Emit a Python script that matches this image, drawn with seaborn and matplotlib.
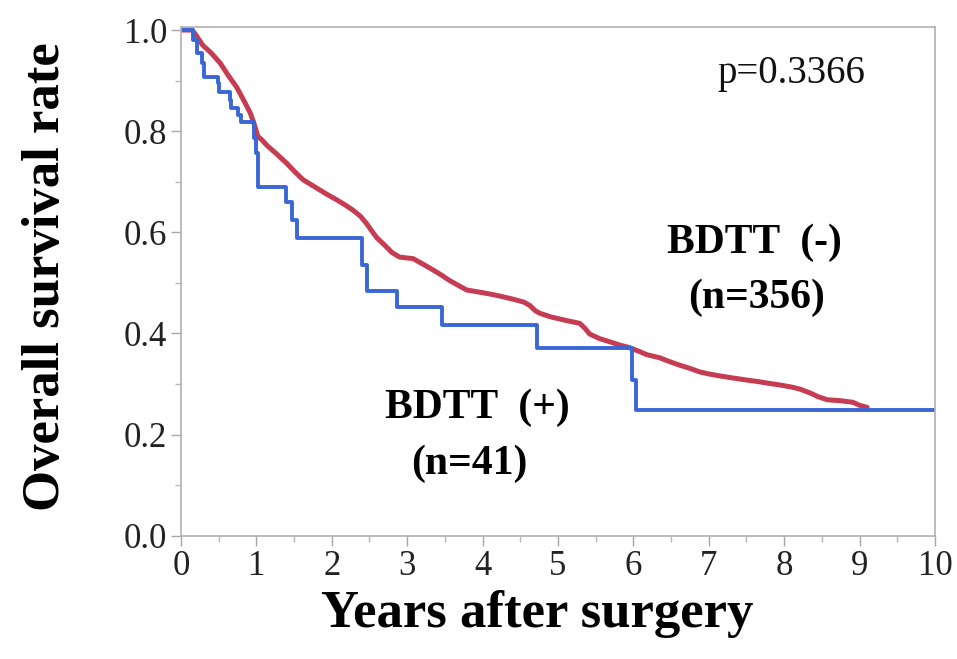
import numpy as np
import pandas as pd
import matplotlib
matplotlib.use("Agg")
import matplotlib.pyplot as plt
import seaborn as sns
from matplotlib.ticker import MultipleLocator

# BDTT (-) n=356
neg_time = [0, 0.15, 0.2, 0.29, 0.4, 0.52, 0.63, 0.74, 0.83, 0.92, 0.97, 1.02, 1.08, 1.14,
            1.27, 1.40, 1.51, 1.62, 1.73, 1.84, 1.95, 2.07, 2.18, 2.28, 2.38, 2.46, 2.53,
            2.60, 2.70, 2.80, 2.90, 3.08, 3.2, 3.34, 3.45, 3.56, 3.68, 3.79, 3.95, 4.1,
            4.23, 4.4, 4.55, 4.63, 4.70, 4.76, 4.9, 5.1, 5.29, 5.36, 5.42, 5.55, 5.7,
            5.82, 5.95, 6.07, 6.18, 6.35, 6.45, 6.6, 6.75, 6.88, 7.0, 7.15, 7.32, 7.5,
            7.65, 7.77, 7.95, 8.1, 8.21, 8.35, 8.45, 8.57, 8.75, 8.91, 9.0, 9.1]
neg_surv = [1.0, 1.0, 0.99, 0.97, 0.955, 0.935, 0.91, 0.887, 0.862, 0.836, 0.815, 0.79, 0.782,
            0.772, 0.755, 0.737, 0.72, 0.704, 0.694, 0.684, 0.674, 0.664, 0.654, 0.644,
            0.632, 0.618, 0.603, 0.589, 0.575, 0.56, 0.551, 0.548, 0.538, 0.526, 0.516,
            0.505, 0.495, 0.486, 0.482, 0.478, 0.474, 0.468, 0.462, 0.455, 0.445, 0.44,
            0.433, 0.426, 0.42, 0.41, 0.399, 0.39, 0.383, 0.377, 0.372, 0.365, 0.358,
            0.352, 0.346, 0.338, 0.331, 0.324, 0.32, 0.316, 0.312, 0.308, 0.305, 0.302,
            0.298, 0.294, 0.29, 0.282, 0.275, 0.269, 0.267, 0.264, 0.258, 0.254]

# BDTT (+) n=41
pos_time = [0, 0.16, 0.22, 0.28, 0.31, 0.34, 0.49, 0.51, 0.65, 0.67, 0.76, 0.80, 0.94, 0.97,
            1.0, 1.02, 1.40, 1.48, 1.54, 2.40, 2.47, 2.87, 3.46, 4.72, 5.98, 6.03, 10.0]
pos_surv = [1.0, 0.98, 0.955, 0.935, 0.907, 0.907, 0.895, 0.877, 0.862, 0.846, 0.832, 0.818,
            0.818, 0.787, 0.757, 0.69, 0.66, 0.625, 0.588, 0.535, 0.484, 0.453, 0.417,
            0.372, 0.308, 0.249, 0.249]

group_labels = ["BDTT (-)", "BDTT (+)"]
x_ticks = list(range(0, 11))
y_ticks = [0.0, 0.2, 0.4, 0.6, 0.8, 1.0]

df = pd.concat([
    pd.DataFrame({"time": neg_time, "surv": neg_surv, "group": group_labels[0]}),
    pd.DataFrame({"time": pos_time, "surv": pos_surv, "group": group_labels[1]}),
])

sns.set_theme(style="white")
plt.rcParams["font.family"] = ["Liberation Serif", "DejaVu Serif"]

fig = plt.figure(figsize=(9.57, 6.59), dpi=100)
ax = fig.add_axes([0.189, 0.187, 0.788, 0.772])

palette = {group_labels[0]: "#c63c52", group_labels[1]: "#3a66d6"}
sns.lineplot(data=df[df.group == group_labels[0]], x="time", y="surv", color=palette[group_labels[0]],
             estimator=None, lw=3.6, ax=ax, legend=False)
sns.lineplot(data=df[df.group == group_labels[1]], x="time", y="surv", color=palette[group_labels[1]],
             drawstyle="steps-post", estimator=None, lw=2.8, ax=ax, legend=False)

ax.set_xlim(0, 10)
ax.set_ylim(0, 1.006)
ax.set_xticks(x_ticks)
ax.set_xticklabels([str(v) for v in x_ticks])
ax.set_yticks(y_ticks)
ax.set_yticklabels([f"{v:.1f}" for v in y_ticks])
ax.xaxis.set_minor_locator(MultipleLocator(0.5))
ax.yaxis.set_minor_locator(MultipleLocator(0.1))
ax.tick_params(which="major", direction="out", length=7, width=1, color="#a8a8a8",
               labelsize=25, labelcolor="#222222", bottom=True, left=True, pad=3)
ax.tick_params(which="minor", direction="out", length=4, width=1, color="#b8b8b8",
               bottom=True, left=True)
for s in ax.spines.values():
    s.set_color("#b0b0b0")
    s.set_linewidth(1.2)

ax.set_xlabel("Years after surgery", fontsize=38, fontweight="bold", color="black")
ax.set_ylabel("Overall survival rate", fontsize=38, fontweight="bold", color="black")
ax.xaxis.set_label_coords(0.472, -0.106)
ax.yaxis.set_label_coords(-0.147, 0.51)

ax.text(8.10, 0.915, "p=0.3366", fontsize=28, ha="center", va="center", color="#111111")
ax.text(7.61, 0.579, "BDTT  (-)", fontsize=30, fontweight="bold", ha="center", va="center", color="black")
ax.text(7.64, 0.47, "(n=356)", fontsize=30, fontweight="bold", ha="center", va="center", color="black")
ax.text(3.93, 0.253, "BDTT  (+)", fontsize=30, fontweight="bold", ha="center", va="center", color="black")
ax.text(3.83, 0.142, "(n=41)", fontsize=30, fontweight="bold", ha="center", va="center", color="black")

fig.savefig("out.png", dpi=100)
